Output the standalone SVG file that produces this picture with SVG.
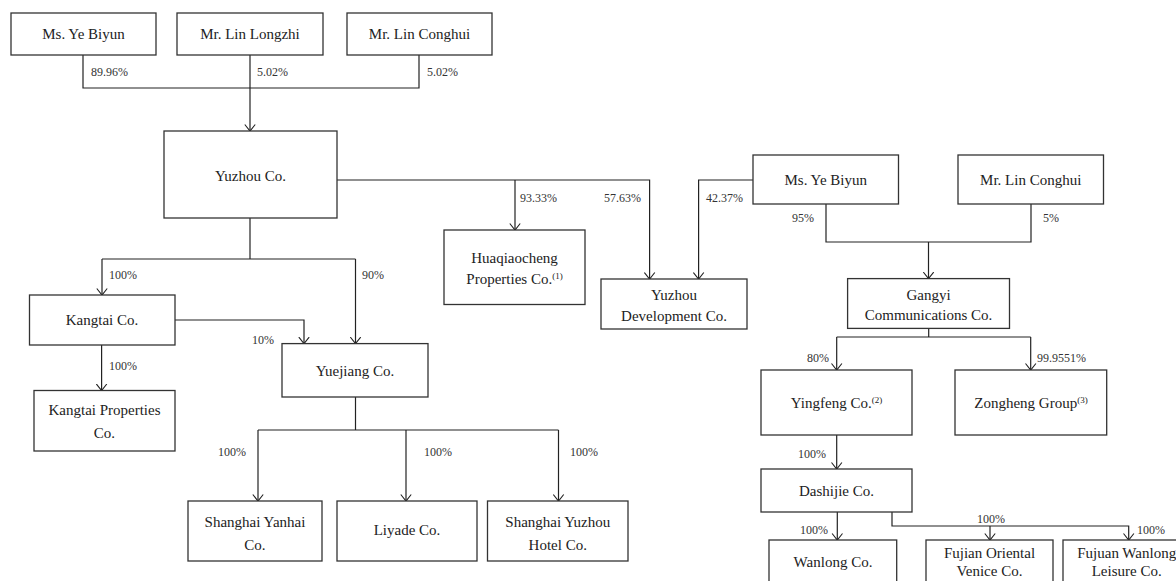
<svg xmlns="http://www.w3.org/2000/svg" width="1176" height="581" viewBox="0 0 1176 581">
<style>
.box{fill:#fff;stroke:#333;stroke-width:1.3}
.t{font-family:"Liberation Serif","Times New Roman",serif;font-size:15px;fill:#222;text-anchor:middle}
.p{font-family:"Liberation Serif","Times New Roman",serif;font-size:12px;fill:#333}
.c{fill:none;stroke:#222;stroke-width:1.2}
.sup{font-size:9px}
</style>
<defs>
<marker id="arr" viewBox="0 0 8 12" refX="7" refY="6" markerWidth="8" markerHeight="12" markerUnits="userSpaceOnUse" orient="auto">
<path d="M0.5,0.8 L7,6 L0.5,11.2" fill="none" stroke="#222" stroke-width="1.1"/>
</marker>
</defs>
<rect width="1176" height="581" fill="#fff"/>

<g id="connectors">
<polyline class="c" points="83,55 83,88 419,88 419,55"/>
<line class="c" x1="250" y1="55" x2="250" y2="131" marker-end="url(#arr)"/>
<polyline class="c" points="337,180 649.6,180 649.6,279" marker-end="url(#arr)"/>
<line class="c" x1="515" y1="180" x2="515" y2="230" marker-end="url(#arr)"/>
<polyline class="c" points="753,180 698.6,180 698.6,279" marker-end="url(#arr)"/>
<polyline class="c" points="826,204 826,242 1031,242 1031,204"/>
<line class="c" x1="928.5" y1="242" x2="928.5" y2="278.6" marker-end="url(#arr)"/>
<line class="c" x1="250" y1="218" x2="250" y2="259"/>
<line class="c" x1="102" y1="259" x2="355.5" y2="259"/>
<line class="c" x1="102" y1="259" x2="102" y2="295" marker-end="url(#arr)"/>
<line class="c" x1="355.5" y1="259" x2="355.5" y2="343.6" marker-end="url(#arr)"/>
<polyline class="c" points="175,320 304,320 304,343.6" marker-end="url(#arr)"/>
<line class="c" x1="101.6" y1="345" x2="101.6" y2="390.5" marker-end="url(#arr)"/>
<line class="c" x1="355.5" y1="397" x2="355.5" y2="430"/>
<line class="c" x1="258" y1="430" x2="558.5" y2="430"/>
<line class="c" x1="258" y1="430" x2="258" y2="501" marker-end="url(#arr)"/>
<line class="c" x1="406" y1="430" x2="406" y2="501" marker-end="url(#arr)"/>
<line class="c" x1="558.5" y1="430" x2="558.5" y2="501" marker-end="url(#arr)"/>
<line class="c" x1="928.7" y1="328.4" x2="928.7" y2="337"/>
<line class="c" x1="836.7" y1="337" x2="1030.7" y2="337"/>
<line class="c" x1="836.7" y1="337" x2="836.7" y2="370" marker-end="url(#arr)"/>
<line class="c" x1="1030.7" y1="337" x2="1030.7" y2="370" marker-end="url(#arr)"/>
<line class="c" x1="836.7" y1="435" x2="836.7" y2="469" marker-end="url(#arr)"/>
<line class="c" x1="837.3" y1="512" x2="837.3" y2="540" marker-end="url(#arr)"/>
<polyline class="c" points="892,512 892,526 1128.7,526 1128.7,540" marker-end="url(#arr)"/>
<line class="c" x1="990" y1="526" x2="990" y2="540" marker-end="url(#arr)"/>

<text class="p" x="91" y="76">89.96%</text>
<text class="p" x="257" y="76">5.02%</text>
<text class="p" x="427" y="76">5.02%</text>
<text class="p" x="520" y="202">93.33%</text>
<text class="p" x="604" y="202">57.63%</text>
<text class="p" x="706" y="202">42.37%</text>
<text class="p" x="792" y="221.5">95%</text>
<text class="p" x="1043" y="221.5">5%</text>
<text class="p" x="109" y="279">100%</text>
<text class="p" x="362" y="279">90%</text>
<text class="p" x="252" y="344">10%</text>
<text class="p" x="109" y="370">100%</text>
<text class="p" x="218" y="456">100%</text>
<text class="p" x="424" y="456">100%</text>
<text class="p" x="570" y="456">100%</text>
<text class="p" x="807" y="362">80%</text>
<text class="p" x="1037" y="362">99.9551%</text>
<text class="p" x="798" y="458">100%</text>
<text class="p" x="800" y="534">100%</text>
<text class="p" x="977" y="523">100%</text>
<text class="p" x="1137" y="534">100%</text>
</g>

<g id="ye-biyun-1"><rect class="box" x="11" y="13" width="145" height="42"/><text class="t" x="83.5" y="39">Ms. Ye Biyun</text></g>
<g id="lin-longzhi"><rect class="box" x="177" y="13" width="146" height="42"/><text class="t" x="250" y="39">Mr. Lin Longzhi</text></g>
<g id="lin-conghui-1"><rect class="box" x="347" y="13" width="145" height="42"/><text class="t" x="419.5" y="39">Mr. Lin Conghui</text></g>
<g id="yuzhou"><rect class="box" x="164" y="131" width="173" height="87"/><text class="t" x="250.5" y="181">Yuzhou Co.</text></g>
<g id="huaqiaocheng"><rect class="box" x="444" y="230" width="141" height="74.5"/><text class="t" x="514.5" y="263">Huaqiaocheng</text><text class="t" x="514.5" y="283.5">Properties Co.<tspan class="sup" dy="-5">(1)</tspan></text></g>
<g id="yuzhou-dev"><rect class="box" x="601" y="279" width="146" height="50"/><text class="t" x="674" y="300">Yuzhou</text><text class="t" x="674" y="321">Development Co.</text></g>
<g id="ye-biyun-2"><rect class="box" x="753" y="155" width="145.5" height="49"/><text class="t" x="825.75" y="184.5">Ms. Ye Biyun</text></g>
<g id="lin-conghui-2"><rect class="box" x="958" y="155" width="145.5" height="49"/><text class="t" x="1030.75" y="184.5">Mr. Lin Conghui</text></g>
<g id="gangyi"><rect class="box" x="847.6" y="278.6" width="161.9" height="49.8"/><text class="t" x="928.5" y="299.5">Gangyi</text><text class="t" x="928.5" y="320">Communications Co.</text></g>
<g id="kangtai"><rect class="box" x="29.5" y="295" width="145.5" height="50"/><text class="t" x="102" y="325">Kangtai Co.</text></g>
<g id="yuejiang"><rect class="box" x="282" y="343.6" width="146" height="53.4"/><text class="t" x="355" y="376">Yuejiang Co.</text></g>
<g id="kangtai-properties"><rect class="box" x="34" y="390.5" width="141" height="60.5"/><text class="t" x="104.5" y="415">Kangtai Properties</text><text class="t" x="104.5" y="438">Co.</text></g>
<g id="shanghai-yanhai"><rect class="box" x="188" y="501" width="134" height="60"/><text class="t" x="255" y="527">Shanghai Yanhai</text><text class="t" x="255" y="550">Co.</text></g>
<g id="liyade"><rect class="box" x="337" y="501" width="140" height="60"/><text class="t" x="407" y="535">Liyade Co.</text></g>
<g id="shanghai-yuzhou-hotel"><rect class="box" x="487.5" y="501" width="140.5" height="60"/><text class="t" x="557.75" y="527">Shanghai Yuzhou</text><text class="t" x="557.75" y="550">Hotel Co.</text></g>
<g id="yingfeng"><rect class="box" x="761" y="370" width="151" height="65"/><text class="t" x="836.5" y="407.5">Yingfeng Co.<tspan class="sup" dy="-5">(2)</tspan></text></g>
<g id="zongheng"><rect class="box" x="955" y="370" width="151.7" height="65"/><text class="t" x="1031" y="407.5">Zongheng Group<tspan class="sup" dy="-5">(3)</tspan></text></g>
<g id="dashijie"><rect class="box" x="761" y="469" width="151" height="43"/><text class="t" x="836.5" y="496">Dashijie Co.</text></g>
<g id="wanlong"><rect class="box" x="769" y="540" width="127.7" height="50"/><text class="t" x="833" y="567">Wanlong Co.</text></g>
<g id="fujian-oriental"><rect class="box" x="926" y="540" width="127" height="50"/><text class="t" x="989.5" y="557.5">Fujian Oriental</text><text class="t" x="989.5" y="576">Venice Co.</text></g>
<g id="fujuan-wanlong"><rect class="box" x="1063" y="540" width="127" height="50"/><text class="t" x="1126.7" y="557.5">Fujuan Wanlong</text><text class="t" x="1126.7" y="576">Leisure Co.</text></g>
</svg>
